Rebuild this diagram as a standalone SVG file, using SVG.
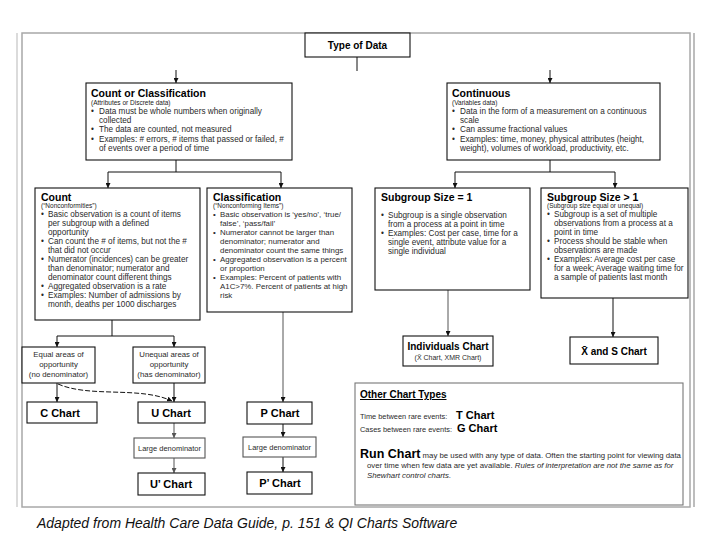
<svg xmlns="http://www.w3.org/2000/svg" width="720" height="540" viewBox="0 0 720 540">
<defs>
<marker id="ah" viewBox="0 0 8 8" refX="8" refY="4" markerWidth="5" markerHeight="5" markerUnits="userSpaceOnUse" orient="auto"><path d="M0,0 L8,4 L0,8 z" fill="#111"/></marker>
<marker id="ahg" viewBox="0 0 8 8" refX="8" refY="4" markerWidth="5" markerHeight="5" markerUnits="userSpaceOnUse" orient="auto"><path d="M0,0 L8,4 L0,8 z" fill="#555"/></marker>
</defs>
<style>
text{font-family:"Liberation Sans",Arial,sans-serif;fill:#1a1a1a}
.box{fill:#fff;stroke:#111;stroke-width:1.1}
.frame{fill:#fff;stroke:#a8a8a8;stroke-width:1.5}
.ttl{font-size:10.5px;font-weight:bold;fill:#000}
.sub{font-size:6.5px}
.b{font-size:8.2px;fill:#2a2a2a}
.lbl{font-size:7.8px;fill:#2a2a2a;text-anchor:middle}
.ch{font-size:11px;font-weight:bold;fill:#000;text-anchor:middle}
.ln{fill:none;stroke:#111;stroke-width:1}
.lg{fill:none;stroke:#555;stroke-width:1}
</style>
<rect x="0" y="0" width="720" height="540" fill="#fff"/>
<rect class="frame" x="22" y="33" width="668" height="474"/>
<line x1="17" y1="33" x2="17" y2="507" stroke="#cfcfcf" stroke-width="1.5"/>
<line x1="694" y1="33" x2="694" y2="507" stroke="#bdbdbd" stroke-width="2"/>

<g id="connectors">
<line class="ln" x1="357" y1="57" x2="357" y2="71"/>
<line class="ln" x1="176" y1="70" x2="176" y2="83" marker-end="url(#ah)"/>
<line class="ln" x1="550" y1="70" x2="550" y2="83" marker-end="url(#ah)"/>
<path class="ln" d="M176,160 V172 M108,172 H281"/>
<line class="ln" x1="108" y1="172" x2="108" y2="188" marker-end="url(#ah)"/>
<line class="ln" x1="281" y1="172" x2="281" y2="188" marker-end="url(#ah)"/>
<path class="ln" d="M550,160 V172 M455,172 H615"/>
<line class="ln" x1="455" y1="172" x2="455" y2="188" marker-end="url(#ah)"/>
<line class="ln" x1="615" y1="172" x2="615" y2="188" marker-end="url(#ah)"/>
<path class="ln" d="M112,320 V336 M57,336 H174"/>
<line class="ln" x1="57" y1="336" x2="57" y2="347" marker-end="url(#ah)"/>
<line class="ln" x1="174" y1="336" x2="174" y2="347" marker-end="url(#ah)"/>
<line class="ln" x1="57" y1="383" x2="57" y2="402" marker-end="url(#ah)"/>
<line class="ln" x1="174" y1="383" x2="174" y2="402" marker-end="url(#ah)"/>
<path class="ln" d="M58,384 C90,398 140,386 172,401" stroke-dasharray="5,2" marker-end="url(#ah)"/>
<line class="lg" x1="174" y1="423" x2="174" y2="438" marker-end="url(#ahg)"/>
<line class="lg" x1="174" y1="458" x2="174" y2="473" marker-end="url(#ahg)"/>
<line class="lg" x1="283" y1="312" x2="283" y2="402" stroke-width="1.3" marker-end="url(#ah)"/>
<line class="ln" x1="283" y1="424" x2="283" y2="437" marker-end="url(#ah)"/>
<line class="ln" x1="283" y1="457" x2="283" y2="472" marker-end="url(#ah)"/>
<line class="lg" x1="448" y1="290" x2="448" y2="336" marker-end="url(#ah)"/>
<line class="ln" x1="613" y1="298" x2="613" y2="337" marker-end="url(#ah)"/>
</g>

<g id="type-of-data">
<rect class="box" x="305" y="33" width="105" height="24"/>
<text x="357.5" y="49" class="ttl" style="text-anchor:middle;font-size:10px">Type of Data</text>
</g>

<g id="count-or-classification">
<rect class="box" x="86" y="83" width="206" height="77"/>
<text x="91" y="97" class="ttl">Count or Classification</text>
<text x="91" y="105" class="sub">(Attributes or Discrete data)</text>
<text class="b"><tspan x="91" y="114">•</tspan><tspan x="99" y="114">Data must be whole numbers when originally</tspan><tspan x="99" y="123">collected</tspan><tspan x="91" y="132">•</tspan><tspan x="99" y="132">The data are counted, not measured</tspan><tspan x="91" y="142">•</tspan><tspan x="99" y="142">Examples: # errors, # items that passed or failed, #</tspan><tspan x="99" y="151">of events over a period of time</tspan></text>
</g>

<g id="continuous">
<rect class="box" x="447" y="83" width="213" height="77"/>
<text x="452" y="97" class="ttl">Continuous</text>
<text x="452" y="105" class="sub">(Variables data)</text>
<text class="b"><tspan x="452" y="114">•</tspan><tspan x="460" y="114">Data in the form of a measurement on a continuous</tspan><tspan x="460" y="123">scale</tspan><tspan x="452" y="132">•</tspan><tspan x="460" y="132">Can assume fractional values</tspan><tspan x="452" y="142">•</tspan><tspan x="460" y="142">Examples: time, money, physical attributes (height,</tspan><tspan x="460" y="151">weight), volumes of workload, productivity, etc.</tspan></text>
</g>

<g id="count">
<rect class="box" x="35" y="188" width="165" height="132"/>
<text x="41" y="201" class="ttl">Count</text>
<text x="41" y="208" class="sub">(“Nonconformities”)</text>
<text class="b"><tspan x="41" y="217">•</tspan><tspan x="48" y="217">Basic observation is a count of items</tspan><tspan x="48" y="226">per subgroup with a defined</tspan><tspan x="48" y="235">opportunity</tspan><tspan x="41" y="244">•</tspan><tspan x="48" y="244">Can count the # of items, but not the #</tspan><tspan x="48" y="253">that did not occur</tspan><tspan x="41" y="262">•</tspan><tspan x="48" y="262">Numerator (incidences) can be greater</tspan><tspan x="48" y="271">than denominator; numerator and</tspan><tspan x="48" y="280">denominator count different things</tspan><tspan x="41" y="289">•</tspan><tspan x="48" y="289">Aggregated observation is a rate</tspan><tspan x="41" y="298">•</tspan><tspan x="48" y="298">Examples: Number of admissions by</tspan><tspan x="48" y="307">month, deaths per 1000 discharges</tspan></text>
</g>

<g id="classification">
<rect class="box" x="207" y="188" width="145" height="124"/>
<text x="213" y="201" class="ttl">Classification</text>
<text x="213" y="208" class="sub">(“Nonconforming Items”)</text>
<text class="b" style="font-size:7.9px"><tspan x="213" y="217">•</tspan><tspan x="220" y="217">Basic observation is ‘yes/no’, ‘true/</tspan><tspan x="220" y="226">false’, ‘pass/fail’</tspan><tspan x="213" y="235">•</tspan><tspan x="220" y="235">Numerator cannot be larger than</tspan><tspan x="220" y="244">denominator; numerator and</tspan><tspan x="220" y="253">denominator count the same things</tspan><tspan x="213" y="262">•</tspan><tspan x="220" y="262">Aggregated observation is a percent</tspan><tspan x="220" y="271">or proportion</tspan><tspan x="213" y="280">•</tspan><tspan x="220" y="280">Examples: Percent of patients with</tspan><tspan x="220" y="289">A1C&gt;7%. Percent of patients at high</tspan><tspan x="220" y="298">risk</tspan></text>
</g>

<g id="subgroup-1">
<rect class="box" x="375" y="188" width="155" height="102"/>
<text x="381" y="201" class="ttl">Subgroup Size = 1</text>
<text class="b"><tspan x="381" y="218">•</tspan><tspan x="388" y="218">Subgroup is a single observation</tspan><tspan x="388" y="227">from a process at a point in time</tspan><tspan x="381" y="236">•</tspan><tspan x="388" y="236">Examples: Cost per case, time for a</tspan><tspan x="388" y="245">single event, attribute value for a</tspan><tspan x="388" y="254">single individual</tspan></text>
</g>

<g id="subgroup-gt1">
<rect class="box" x="541" y="188" width="147" height="110"/>
<text x="547" y="201" class="ttl">Subgroup Size &gt; 1</text>
<text x="547" y="208" class="sub">(Subgroup size equal or unequal)</text>
<text class="b"><tspan x="547" y="217">•</tspan><tspan x="554" y="217">Subgroup is a set of multiple</tspan><tspan x="554" y="226">observations from a process at a</tspan><tspan x="554" y="235">point in time</tspan><tspan x="547" y="244">•</tspan><tspan x="554" y="244">Process should be stable when</tspan><tspan x="554" y="253">observations are made</tspan><tspan x="547" y="262">•</tspan><tspan x="554" y="262">Examples: Average cost per case</tspan><tspan x="554" y="271">for a week; Average waiting time for</tspan><tspan x="554" y="280">a sample of patients last month</tspan></text>
</g>

<g id="equal-areas">
<rect class="box" x="22" y="347" width="73" height="36"/>
<text class="lbl"><tspan x="58.5" y="357">Equal areas of</tspan><tspan x="58.5" y="367">opportunity</tspan><tspan x="58.5" y="377">(no denominator)</tspan></text>
</g>
<g id="unequal-areas">
<rect class="box" x="133" y="347" width="72" height="36"/>
<text class="lbl"><tspan x="169" y="357">Unequal areas of</tspan><tspan x="169" y="367">opportunity</tspan><tspan x="169" y="377">(has denominator)</tspan></text>
</g>
<g id="c-chart">
<rect class="box" x="27" y="402" width="70" height="21"/>
<text x="60" y="416.5" class="ch">C Chart</text>
</g>
<g id="u-chart">
<rect class="box" x="138" y="402" width="67" height="21"/>
<text x="171" y="416.5" class="ch">U Chart</text>
</g>
<g id="u-large-denominator">
<rect class="box" x="134" y="438" width="71" height="20" style="stroke:#555"/>
<text x="169.5" y="451" class="lbl" style="font-size:7.5px">Large denominator</text>
</g>
<g id="u-prime-chart">
<rect class="box" x="138" y="473" width="67" height="22"/>
<text x="171" y="488" class="ch">U’ Chart</text>
</g>
<g id="p-chart">
<rect class="box" x="247" y="402" width="65" height="22"/>
<text x="280" y="417" class="ch">P Chart</text>
</g>
<g id="p-large-denominator">
<rect class="box" x="243" y="437" width="73" height="20" style="stroke:#555"/>
<text x="279.5" y="450" class="lbl" style="font-size:7.5px">Large denominator</text>
</g>
<g id="p-prime-chart">
<rect class="box" x="247" y="472" width="65" height="22"/>
<text x="280" y="487" class="ch">P’ Chart</text>
</g>
<g id="individuals-chart">
<rect class="box" x="403" y="336" width="90" height="30"/>
<text x="448" y="350" class="ch" style="font-size:10px">Individuals Chart</text>
<text x="448" y="360" class="lbl" style="font-size:7px">(X̄ Chart, XMR Chart)</text>
</g>
<g id="xbar-s-chart">
<rect class="box" x="570" y="337" width="88" height="27"/>
<text x="614" y="355" class="ch" style="font-size:10px">X̄ and S Chart</text>
</g>

<g id="other-chart-types">
<rect class="box" x="355" y="383" width="328" height="122" style="stroke:#777"/>
<text x="360" y="398" class="ttl" style="font-size:10px;text-decoration:underline">Other Chart Types</text>
<text x="360" y="419" class="b" style="font-size:7.4px">Time between rare events:<tspan x="456" style="font-size:11px;font-weight:bold;fill:#000">T Chart</tspan></text>
<text x="360" y="432" class="b" style="font-size:7.4px">Cases between rare events:<tspan x="457" style="font-size:11px;font-weight:bold;fill:#000">G Chart</tspan></text>
<text x="360" y="458" class="b" style="font-size:7.8px"><tspan style="font-size:12.5px;font-weight:bold;fill:#000">Run Chart</tspan> may be used with any type of data. Often the starting point for viewing data</text>
<text x="367" y="468" class="b" style="font-size:7.8px">over time when few data are yet available. <tspan font-style="italic">Rules of interpretation are not the same as for</tspan></text>
<text x="367" y="478" class="b" style="font-size:7.8px;font-style:italic">Shewhart control charts.</text>
</g>

<text x="37" y="528" style="font-size:14px;font-style:italic;fill:#111">Adapted from Health Care Data Guide, p. 151 &amp; QI Charts Software</text>
</svg>
